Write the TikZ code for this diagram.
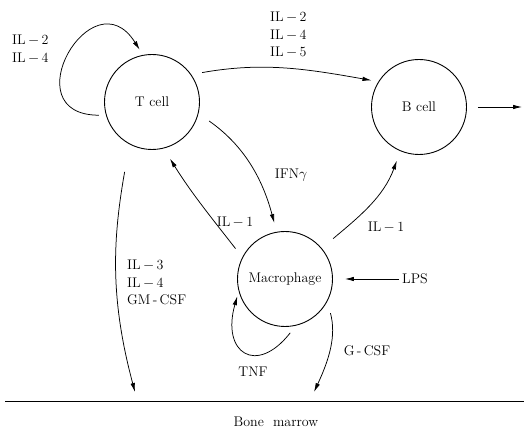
\documentclass[tikz,border=0pt]{standalone}
\usepackage{fontspec}
\usetikzlibrary{arrows.meta}
\begin{document}
\begin{tikzpicture}[x=1pt,y=1pt,
  cell/.style={draw,circle,line width=0.9pt,minimum size=95pt,inner sep=0pt,font=\fontsize{14}{17}\selectfont},
  conn/.style={line width=0.75pt,-{Latex[length=9pt,width=4.5pt]}},
  lab/.style={font=\fontsize{14}{17.5}\selectfont,inner sep=0pt,align=left}]
\useasboundingbox (0,0) rectangle (524,438);
% cells
\node[cell] (T) at (152,336) {T cell};
\node[cell] (B) at (419,331) {B cell};
\node[cell] (M) at (285,159) {Macrophage};
% free ends
\coordinate (Bout) at (522,331);
\coordinate (Gend) at (314,46);
\coordinate (Tend) at (135,46);
\coordinate (bmL) at (5,37);
\coordinate (bmR) at (524,37);
% connectors
\draw[conn,shorten <=11pt,shorten >=7pt] (T.35) to[out=10,in=170] (B.148);
\draw[conn,shorten <=11pt] (B.0) -- (Bout);
\draw[conn,shorten <=7pt,shorten >=6pt] (T.196) to[out=180,in=122,distance=95pt] (T.101);
\draw[conn,shorten <=13pt,shorten >=9pt] (T.-14) to[out=-35,in=105] (M.100);
\draw[conn,shorten <=11pt,shorten >=12pt] (M.153) to[out=128,in=-58] (T.-76);
\draw[conn,shorten <=15pt,shorten >=10pt] (M.40) to[out=40,in=-110] (B.-113);
\node[lab,anchor=west] (LPS) at (402,159) {LPS};
\draw[conn,shorten <=3pt,shorten >=12pt] (LPS.west) -- (M.0);
\draw[conn,shorten <=9pt,shorten >=5pt] (M.-77) to[out=-128,in=-106,distance=64pt] (M.195);
\draw[conn,shorten <=12pt] (M.-28) to[out=-75,in=65] (Gend);
\draw[conn,shorten <=28pt] (T.-118) to[out=-100,in=105] (Tend);
\draw[line width=0.9pt] (bmL) -- (bmR);
% labels
\node[lab,anchor=north west] (lT) at (12,403) {IL\,$-$\,2\\IL\,$-$\,4};
\node[lab,anchor=north west] (lTB) at (270,426) {IL\,$-$\,2\\IL\,$-$\,4\\IL\,$-$\,5};
\node[lab] (lifn) at (291,263) {IFN$\gamma$};
\node[lab] (lil1a) at (235,216) {IL\,$-$\,1};
\node[lab] (lil1b) at (386,211) {IL\,$-$\,1};
\node[lab] (ltnf) at (253,66) {TNF};
\node[lab] (lg) at (367,87) {G\,-\,CSF};
\node[lab,anchor=north west] (lbm) at (127,178) {IL\,$-$\,3\\IL\,$-$\,4\\GM\,-\,CSF};
\node[lab] (lbone) at (276,16) {Bone\ \ marrow};
\end{tikzpicture}
\end{document}
